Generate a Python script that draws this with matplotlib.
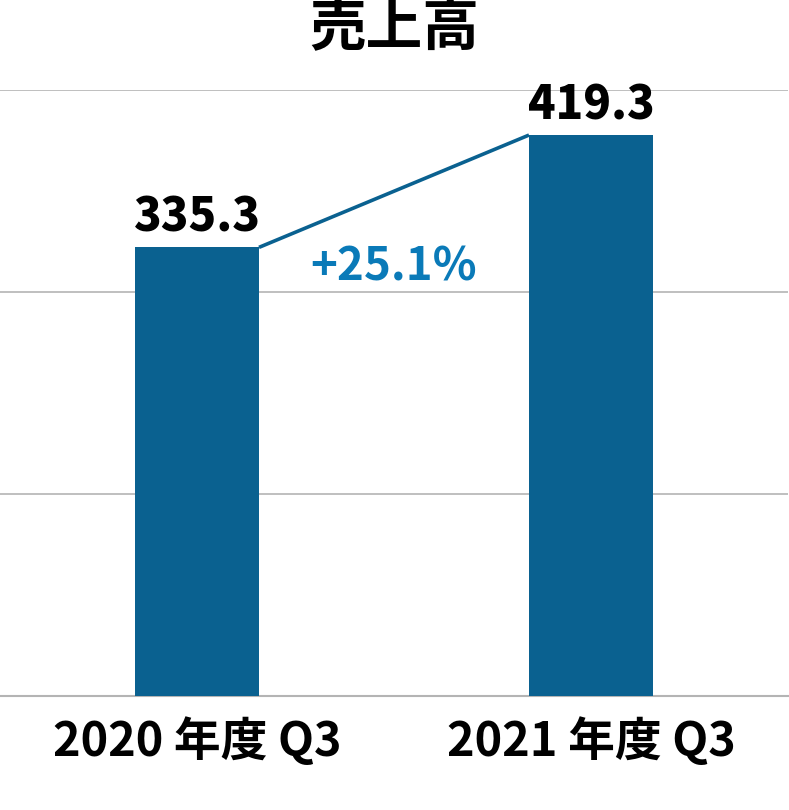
import matplotlib
matplotlib.use("Agg")
from matplotlib import pyplot as plt

plt.rcParams['font.family'] = ['Noto Sans CJK JP', 'DejaVu Sans']

# データ
categories = ["2020 年度 Q3", "2021 年度 Q3"]
sales = [335.3, 419.3]
value_labels = ["335.3", "419.3"]
growth_label = "+25.1%"
title = "売上高"
grid_values = [0, 151, 302, 453]

bar_color = "#0a6190"
line_color = "#0a6190"
growth_color = "#0a7ab8"
grid_color = "#b4b4b4"

fig = plt.figure(figsize=(7.89, 8.10), dpi=100)
ax = fig.add_axes([0.0, (810 - 695.7) / 810, 788 / 789, (695.7 - 90) / 810])

x = list(range(len(categories)))
width = 124 / 394
ax.bar(x, sales, width=width, color=bar_color, zorder=3)

# 棒の上端を結ぶ線
ax.plot([x[0] + width / 2, x[1] - width / 2], [sales[0], sales[1]],
        color=line_color, linewidth=2.6, zorder=4, solid_capstyle='butt')

# 値ラベル
for xi, v, lab in zip(x, sales, value_labels):
    ax.annotate(lab, (xi, v), xytext=(0, 4), textcoords='offset points',
                ha='center', va='bottom', fontsize=32.8, fontweight='heavy',
                color='black')

# 伸び率
ax.text(0.5, 320, growth_label, ha='center', va='center',
        fontsize=32.8, fontweight='bold', color=growth_color)

ax.set_xlim(-0.5, 1.5)
ax.set_ylim(0, 453)
ax.set_yticks(grid_values)
ax.yaxis.grid(True, color=grid_color, linewidth=1.2, zorder=0)
ax.set_axisbelow(True)
ax.tick_params(axis='y', left=False, labelleft=False)
ax.tick_params(axis='x', bottom=False, pad=12)
ax.set_xticks(x)
ax.set_xticklabels(categories, fontsize=33.7, fontweight='bold')
for s in ['top', 'right', 'left']:
    ax.spines[s].set_visible(False)
ax.spines['bottom'].set_color(grid_color)
ax.spines['bottom'].set_linewidth(1.5)

fig.text(0.5, 1 - 28 / 810, title, ha='center', va='center',
         fontsize=40.8, fontweight='bold')

fig.savefig("out.png", dpi=100)
